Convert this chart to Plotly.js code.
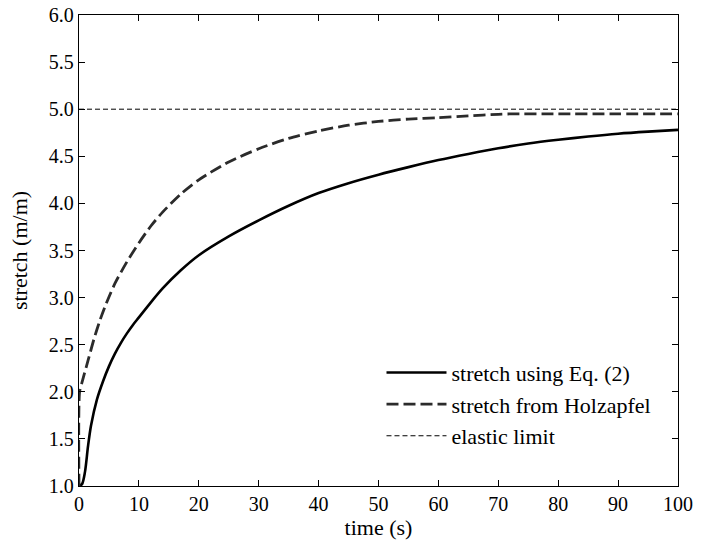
<!DOCTYPE html>
<html>
<head>
<meta charset="utf-8">
<script src="https://cdn.plot.ly/plotly-3.0.1.min.js"></script>
<style>
html,body{margin:0;padding:0;background:#fff;}
#chart{width:711px;height:540px;}
</style>
</head>
<body>
<div id="chart"></div>
<script>
// time (s) and stretch (m/m) for "stretch using Eq. (2)"
var timeEq = [0, 0.5, 1.0, 1.5, 2, 3, 4, 5, 6, 7, 8, 9, 10, 12, 14, 17, 20, 25, 30, 35, 40, 45, 50, 55, 60, 65, 70, 75, 80, 85, 90, 95, 100];
var stretchEq = [1.0, 1.02, 1.15, 1.42, 1.64, 1.92, 2.11, 2.27, 2.405, 2.52, 2.62, 2.71, 2.79, 2.95, 3.10, 3.29, 3.45, 3.65, 3.82, 3.975, 4.11, 4.215, 4.305, 4.385, 4.46, 4.525, 4.585, 4.635, 4.675, 4.71, 4.74, 4.762, 4.78];

// time (s) and stretch (m/m) for "stretch from Holzapfel"
var timeHolz = [0, 0.1, 0.5, 1.5, 2.5, 3.5, 4.5, 6, 8, 10, 12, 14, 17, 20, 25, 30, 35, 40, 45, 50, 55, 60, 65, 70, 72, 80, 90, 100];
var stretchHolz = [1.0, 2.0, 2.1, 2.33, 2.56, 2.76, 2.93, 3.15, 3.38, 3.58, 3.76, 3.91, 4.10, 4.25, 4.44, 4.58, 4.69, 4.77, 4.83, 4.87, 4.895, 4.91, 4.93, 4.945, 4.95, 4.95, 4.95, 4.95];

// elastic limit
var limitTime = [0, 100];
var limitStretch = [5.0, 5.0];

var seriesNames = ["stretch using Eq. (2)", "stretch from Holzapfel", "elastic limit"];
var xTicks = [0, 10, 20, 30, 40, 50, 60, 70, 80, 90, 100];
var yTicks = [1.0, 1.5, 2.0, 2.5, 3.0, 3.5, 4.0, 4.5, 5.0, 5.5, 6.0];

var FONT = "Liberation Serif, DejaVu Serif, serif";

var traces = [
  {x: timeEq, y: stretchEq, name: seriesNames[0], type: 'scatter', mode: 'lines',
   line: {color: '#000000', width: 2.6, shape: 'spline', smoothing: 0.8}},
  {x: timeHolz, y: stretchHolz, name: seriesNames[1], type: 'scatter', mode: 'lines',
   line: {color: '#2b2b2b', width: 2.8, dash: '12px,5px', shape: 'spline', smoothing: 0.7}},
  {x: limitTime, y: limitStretch, name: seriesNames[2], type: 'scatter', mode: 'lines',
   line: {color: '#000000', width: 1, dash: '5px,3px'}}
];

var axisCommon = {
  showline: true, linecolor: '#000', linewidth: 1.3, mirror: 'allticks',
  ticks: 'inside', ticklen: 6, tickwidth: 1, tickcolor: '#000',
  showgrid: false, zeroline: false,
  tickfont: {family: FONT, size: 20, color: '#000'}
};

var layout = {
  width: 711, height: 540,
  margin: {l: 79, r: 33, t: 15, b: 54},
  paper_bgcolor: '#fff', plot_bgcolor: '#fff',
  font: {family: FONT, size: 20, color: '#000'},
  showlegend: true,
  legend: {
    x: 0.505, y: 0.285, xanchor: 'left', yanchor: 'top',
    bgcolor: 'rgba(255,255,255,0)', borderwidth: 0,
    font: {family: FONT, size: 22, color: '#000'},
    itemwidth: 60, tracegroupgap: 0
  },
  xaxis: Object.assign({}, axisCommon, {
    range: [0, 100], tickvals: xTicks, ticktext: xTicks.map(String),
    title: {text: 'time (s)', font: {family: FONT, size: 22, color: '#000'}, standoff: 1}
  }),
  yaxis: Object.assign({}, axisCommon, {
    range: [1, 6], tickvals: yTicks, ticktext: yTicks.map(function(v){return v.toFixed(1);}),
    title: {text: 'stretch (m/m)', font: {family: FONT, size: 22, color: '#000'}, standoff: 15}
  })
};

Plotly.newPlot('chart', traces, layout, {displayModeBar: false, staticPlot: true});
</script>
</body>
</html>
